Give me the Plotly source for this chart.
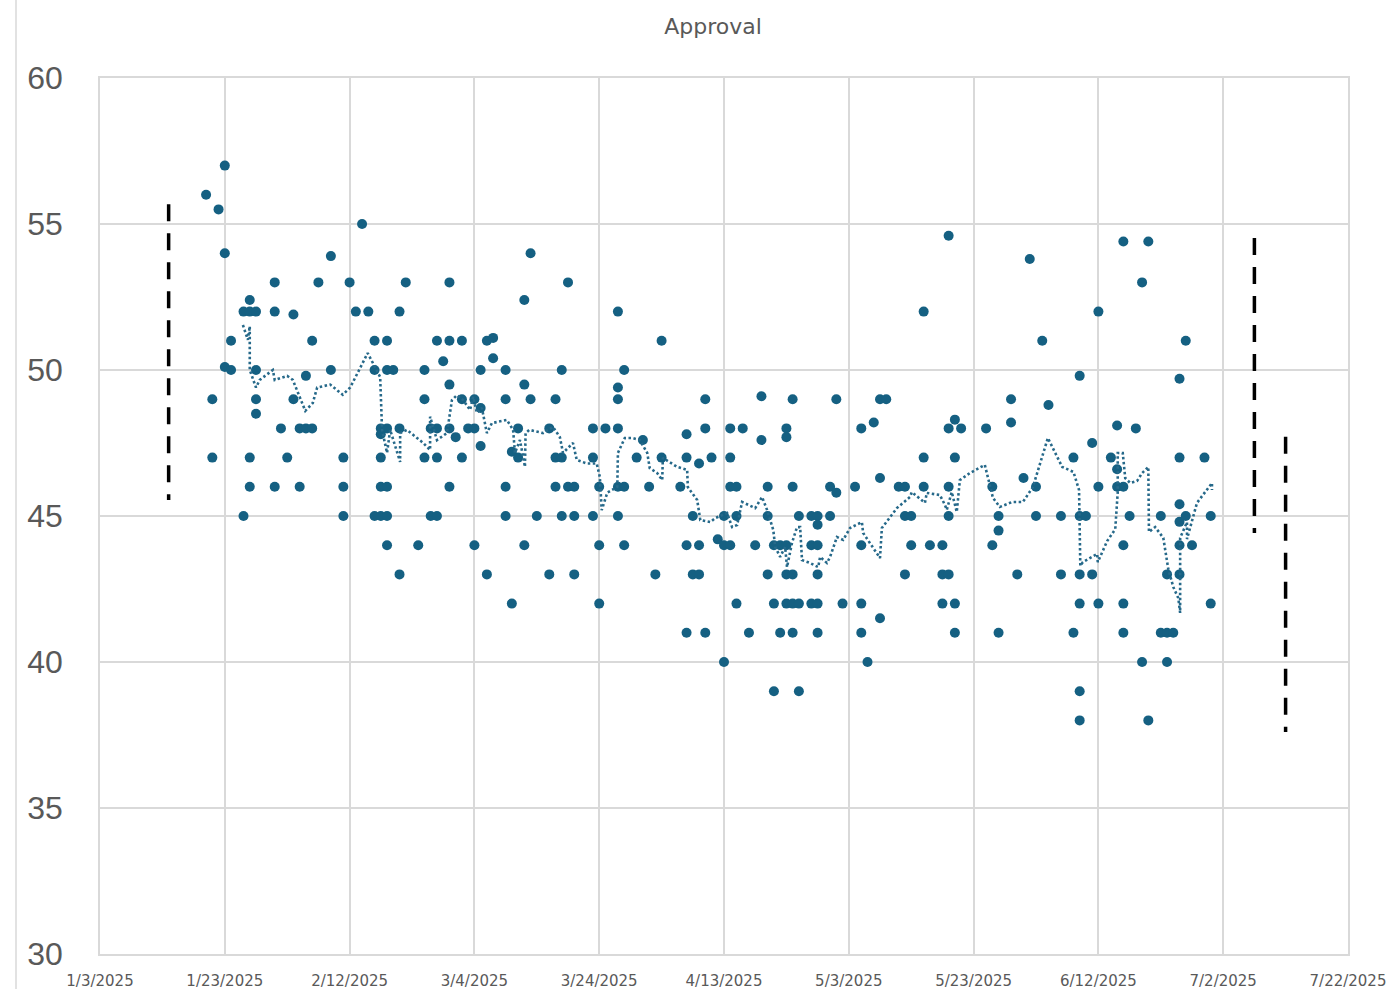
import pandas as pd
import plotly.graph_objects as go

# ---------------- data ----------------
start_date = "2025-01-03"

# poll results grouped by day (days since 1/3/2025)
poll_days = [17, 18, 19, 20, 21, 23, 24, 25, 28, 29, 30, 31, 32, 33, 34, 35, 37, 39, 40, 41,
             42, 43, 44, 45, 46, 47, 48, 49, 51, 52, 53, 54, 55, 56, 57, 58, 59, 60, 61, 62,
             63, 65, 66, 67, 68, 69, 70, 72, 73, 74, 75, 76, 79, 80, 81, 83, 84, 86, 87, 88,
             89, 90, 93, 94, 95, 96, 97, 98, 99, 100, 101, 102, 103, 104, 105, 106, 107, 108, 109, 110,
             111, 112, 114, 115, 117, 118, 119, 121, 122, 123, 124, 125, 126, 128, 129, 130, 132, 133, 135, 136,
             137, 138, 142, 143, 144, 146, 147, 148, 149, 150, 151, 152, 154, 156, 157, 158, 159, 160, 162, 163,
             164, 165, 166, 167, 168, 170, 171, 172, 173, 174, 175, 177, 178]
poll_values = [
    [56.0], [49, 47], [55.5], [57, 54, 50.1], [51, 50], [52, 45], [52.4, 52, 47, 46], [52, 50, 49, 48.5],
    [53, 52, 46], [48], [47], [51.9, 49], [48, 46], [49.8, 48], [51, 48], [53], [53.9, 50], [47, 46, 45],
    [53], [52], [55], [52], [51, 50, 45], [48, 47.8, 47, 46, 45], [51, 50, 48, 46, 45, 44], [50],
    [52, 48, 43], [53], [44], [50, 49, 47], [48, 45], [51, 48, 47, 45], [50.3], [53, 51, 49.5, 48, 46],
    [47.7], [51, 49, 47], [48], [49, 48, 44], [50, 48.7, 47.4], [51, 43], [51.1, 50.4], [50, 49, 46, 45],
    [47.2, 42], [48, 47], [52.4, 49.5, 44], [54, 49], [45], [48, 43], [49, 47, 46], [50, 47, 45], [53, 46],
    [46, 45, 43], [48, 47, 45], [46, 44, 42], [48], [52, 49.4, 49, 48, 46, 45], [50, 46, 44], [47], [47.6],
    [46], [43], [51, 47], [46], [47.8, 47, 44, 41], [45, 43], [46.8, 44, 43], [49, 48, 41], [47], [44.2],
    [45, 44, 40], [48, 47, 46, 44], [46, 45, 42], [48], [41], [44], [49.1, 47.6], [46, 45, 43], [44, 42, 39],
    [44, 41], [48, 47.7, 44, 43, 42], [49, 46, 43, 42, 41], [45, 42, 39], [45, 44, 42],
    [45, 44.7, 44, 43, 42, 41], [46, 45], [49, 45.8], [42], [46], [48, 44, 42, 41], [40], [48.2],
    [49, 46.3, 41.5], [49], [46], [46, 45, 43], [45, 44], [52, 47, 46], [44], [44, 43, 42],
    [54.6, 48, 46, 45, 43], [48.3, 47, 42, 41], [48], [48], [46, 44], [45, 44.5, 41], [49, 48.2], [43],
    [46.3], [53.8], [46, 45], [51], [48.8], [45, 43], [47, 41], [49.8, 45, 43, 42, 39, 38], [45], [47.5, 43],
    [52, 46, 42], [47], [48.1, 46.6, 46], [54.4, 46, 44, 42, 41], [45], [48], [53, 40], [54.4, 38], [45, 41],
    [43, 41, 40], [41], [49.7, 47, 45.4, 44.8, 44, 43], [51, 45], [44], [47], [45, 42],
]

# moving-average (dotted) line
trend_days = [22.9, 23.7, 24.0, 24.0, 25.0, 25.6, 27.7, 28.0, 30.0, 30.9, 32.9, 34.1, 34.8, 36.9, 38.9,
              40.1, 42.9, 44.9, 45.2, 46.0, 46.5, 48.1, 48.1, 49.2, 51.8, 52.9, 52.9, 54.0, 55.6, 56.4,
              57.2, 58.2, 59.3, 59.8, 60.4, 61.2, 62.0, 62.8, 65.2, 66.2, 66.5, 67.3, 68.1, 68.2, 68.8,
              71.0, 72.6, 73.7, 74.2, 75.8, 76.4, 78.0, 79.6, 80.1, 80.4, 81.3, 82.9, 83.0, 84.1, 85.3,
              86.5, 87.7, 88.1, 89.3, 90.1, 90.2, 92.5, 94.1, 94.2, 95.7, 96.2, 97.8, 98.6, 100.5, 101.3,
              102.1, 102.9, 105.0, 106.1, 106.9, 107.9, 108.2, 109.0, 109.8, 110.1, 110.9, 111.4, 111.7, 112.2,
              112.5, 113.8, 115.1, 115.4, 116.5, 117.0, 118.1, 119.1, 120.2, 122.1, 122.3, 125.0, 125.3, 127.7,
              129.8, 130.1, 132.2, 132.5, 134.6, 135.4, 135.7, 136.5, 137.3, 137.8, 139.4, 141.8, 143.1, 144.2,
              146.2, 147.9, 149.5, 151.9, 154.2, 156.0, 156.9, 157.1, 157.5, 159.8, 159.9, 161.4, 162.7, 163.1,
              163.1, 163.9, 164.3, 165.1, 166.2, 167.0, 168.0, 168.1, 169.1, 170.4, 171.2, 172.0, 172.8, 173.1,
              173.1, 174.2, 174.2, 175.8, 178.2, 178.2]
trend_values = [51.54, 51.03, 51.5, 50.0, 49.4, 49.66, 50.0, 49.66, 49.8, 49.66, 48.6, 48.87, 49.4, 49.5, 49.15,
                49.4, 50.58, 49.76, 47.95, 47.16, 47.95, 46.85, 47.84, 47.95, 47.5, 47.26, 48.4, 47.6, 47.84, 48.97,
                49.14, 48.97, 48.63, 49.08, 48.53, 48.7, 47.84, 48.18, 48.29, 47.95, 47.16, 47.6, 46.68, 47.84, 47.95,
                47.84, 48.05, 47.7, 47.16, 47.5, 46.92, 46.8, 46.8, 46.34, 45.2, 45.8, 46.0, 47.16, 47.67, 47.67,
                47.6, 47.16, 46.64, 46.47, 46.23, 46.99, 46.68, 46.58, 45.99, 45.55, 44.86, 44.79, 44.93, 45.1, 44.62,
                44.69, 45.48, 45.27, 45.65, 45.21, 44.52, 43.94, 43.6, 43.94, 43.25, 44.08, 44.42, 44.62, 44.62,
                43.49, 43.39, 43.25, 43.6, 43.39, 43.6, 44.28, 44.18, 44.59, 44.79, 44.42, 43.56, 44.59, 45.27,
                45.65, 45.82, 45.45, 45.79, 45.72, 45.38, 45.21, 45.82, 45.14, 46.23, 46.47, 46.75, 45.62, 45.31,
                45.48, 45.48, 45.99, 47.67, 46.68, 46.51, 45.89, 43.29, 43.42, 43.7, 43.42, 44.14, 44.55, 45.82,
                47.16, 47.16, 46.3, 46.13, 46.2, 46.47, 46.68, 44.45, 44.62, 44.25, 43.18, 42.57, 42.19, 41.68,
                44.25, 44.79, 44.21, 45.45, 46.13, 45.89]

# dashed vertical range markers
range_days = [11, 185, 190]
range_high = [55.68, 54.52, 47.71]
range_low = [45.55, 44.42, 37.6]

tick_dates = ["2025-01-03", "2025-01-23", "2025-02-12", "2025-03-04", "2025-03-24", "2025-04-13",
              "2025-05-03", "2025-05-23", "2025-06-12", "2025-07-02", "2025-07-22"]
tick_labels = ["1/3/2025", "1/23/2025", "2/12/2025", "3/4/2025", "3/24/2025", "4/13/2025",
               "5/3/2025", "5/23/2025", "6/12/2025", "7/2/2025", "7/22/2025"]
y_ticks = [30, 35, 40, 45, 50, 55, 60]

# ---------------- build ----------------
base = pd.Timestamp(start_date)


def to_date(days):
    return [base + pd.to_timedelta(d, unit="D") for d in days]


px_days, px_vals = [], []
for d, vals in zip(poll_days, poll_values):
    for v in vals:
        px_days.append(d)
        px_vals.append(v)

COLOR = "#156082"
GREY = "#595959"
GRID = "#d9d9d9"

W, H = 1389, 989
ML, MR, MT, MB = 100, 41, 78, 35
PW, PH = W - ML - MR, H - MT - MB

fig = go.Figure()
fig.add_trace(go.Scatter(
    x=to_date(px_days), y=px_vals, mode="markers",
    marker=dict(size=10, color=COLOR, line=dict(width=0)),
    hoverinfo="x+y",
))
fig.add_trace(go.Scatter(
    x=to_date(trend_days), y=trend_values, mode="lines",
    line=dict(color="#26698a", width=2.6, dash="2.5px,2.5px"),
    hoverinfo="skip",
))
for d, hi, lo in zip(range_days, range_high, range_low):
    fig.add_trace(go.Scatter(
        x=to_date([d, d]), y=[hi, lo], mode="lines",
        line=dict(color="black", width=3.5, dash="17px,12px"),
        hoverinfo="skip",
    ))

fig.update_layout(
    width=W, height=H,
    margin=dict(l=ML, r=MR, t=MT, b=MB, autoexpand=False),
    paper_bgcolor="white", plot_bgcolor="white",
    showlegend=False,
    title=dict(text="Approval", x=713 / W, xref="container", xanchor="center",
               y=1 - 26 / H, yref="container", yanchor="middle",
               font=dict(family="DejaVu Sans", size=22, color=GREY)),
)
fig.update_xaxes(
    type="date", automargin=False,
    range=[tick_dates[0], tick_dates[-1]],
    tickmode="array", tickvals=tick_dates, ticktext=tick_labels,
    showgrid=True, gridcolor=GRID, gridwidth=1.5,
    showline=True, linecolor=GRID, linewidth=1.5, mirror=True,
    ticks="", ticklabelstandoff=12,
    tickfont=dict(family="DejaVu Sans", size=15, color=GREY),
    zeroline=False,
)
fig.update_yaxes(
    range=[30, 60], tickmode="array", tickvals=y_ticks, automargin=False,
    showgrid=True, gridcolor=GRID, gridwidth=1.5,
    showline=True, linecolor=GRID, linewidth=1.5, mirror=True,
    ticks="", ticklabelstandoff=29,
    tickfont=dict(family="Liberation Sans", size=32, color=GREY),
    zeroline=False,
)
fig.add_shape(type="line", xref="paper", yref="paper",
              x0=(16 - ML) / PW, x1=(16 - ML) / PW, y0=-MB / PH, y1=1 + MT / PH,
              line=dict(color=GRID, width=1.5))

fig.write_html(
    "out.html",
    config={"displayModeBar": False},
    post_script="document.body.style.margin='0px';document.body.style.overflow='hidden';",
)
